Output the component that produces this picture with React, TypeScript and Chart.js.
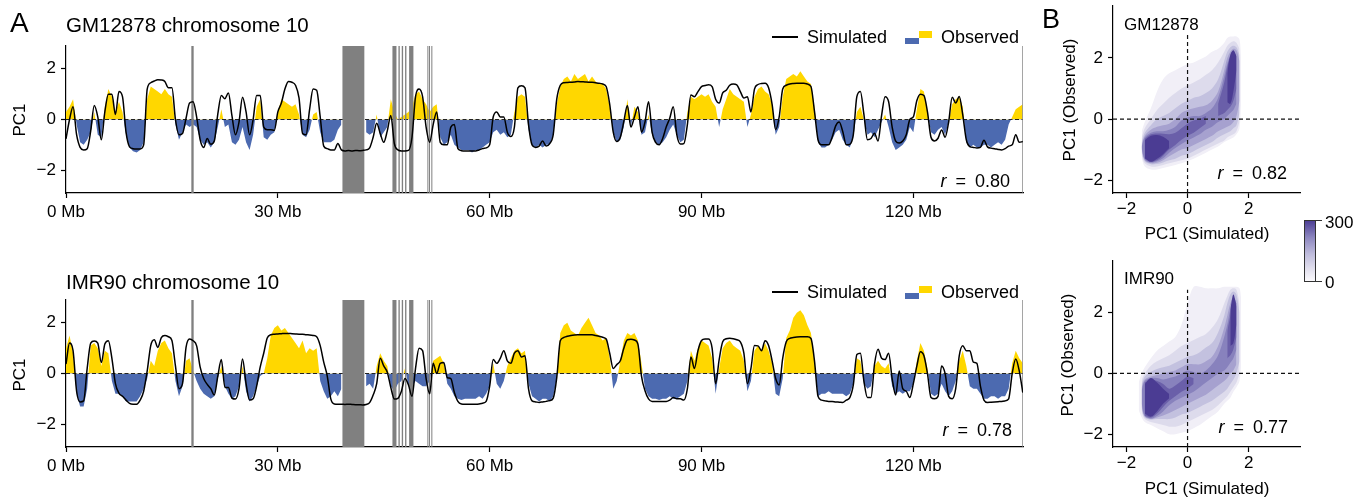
import React, { useEffect, useRef } from "react";
import { Chart, registerables } from "chart.js";

Chart.register(...registerables);

const FONT = '"Liberation Sans", Arial, Helvetica, sans-serif';
const YELLOW = "#FFD700";
const BLUE = "#4C6AB0";
const GAP_GRAY = "#808080";

// ---- Track (panel A) data: PC1 per 0.5 Mb bin, chromosome 10 ----
const BIN_MB = 0.5;
const CHROM_END_MB = 135.53;
const X_TICKS_MB = [0, 30, 60, 90, 120];
const Y_TICKS_PC1 = [-2, 0, 2];

// unmappable gaps [start, end] in Mb
const GAPS_MB: number[][] = [
  [17.75, 18.08], [39.15, 42.25], [46.23, 46.8], [47.08, 47.27], [47.55, 47.74],
  [48.02, 48.21], [48.59, 49.2], [51.18, 51.28], [51.41, 51.5], [51.74, 51.84],
  [135.43, 135.53],
];

const GM_SIM = [
  -0.76, 0.0, 0.5, -0.6, -1.1, -1.2, -1.15, -0.45, 0.55, 0.1, -0.8, 0.3, 1.0, 1.0, 0.2, 1.1, 0.9, -0.5, -1.08, -1.15,
  -1.16, -1.16, -1.0, 1.2, 1.45, 1.52, 1.57, 1.56, 1.5, 1.25, 1.25, 0.0, -0.6, -0.55, 0.05, 0.65, 0.7, 0.1, -0.8, -1.1,
  -0.75, -0.98, -0.85, 0.22, 0.95, 0.82, 1.05, 0.15, -0.6, -0.1, 0.88, 0.3, -0.6, 0.0, 0.95, 0.95, -0.3, -0.4, -0.4, -0.43,
  0.3, 0.65, 1.2, 1.5, 1.47, 1.35, 0.85, -0.55, -0.6, 0.4, 1.2, 1.15, 0.1, -1.05, -1.15, -1.2, -1.2, -0.95, -1.2, -1.24,
  -1.22, -1.24, -1.22, -1.23, -1.22, -1.2, -1.12, -0.7, -0.15, -0.55, -0.9, -0.45, 0.16, -0.95, -1.2, -1.24, -1.24, -1.22, -0.7, 0.9,
  1.2, 0.9, -0.3, -0.9, -0.2, 0.3, -0.9, -1.0, -1.0, -0.3, -0.2, -1.15, -1.23, -1.24, -1.24, -1.24, -1.24, -1.2, -1.15, -1.12,
  -1.0, 0.1, 0.3, 0.1, 0.1, -0.5, -0.67, -0.3, 1.25, 1.33, 1.25, -0.2, -1.0, -1.1, -1.05, -0.85, -1.05, -0.95, -0.6, 0.8,
  1.35, 1.45, 1.46, 1.47, 1.48, 1.5, 1.49, 1.48, 1.47, 1.47, 1.45, 1.43, 1.4, 1.3, 0.6, -0.5, -0.87, -0.7, -0.08, 0.55,
  -0.3, 0.1, 0.5, -0.5, -0.1, 0.7, -0.5, -0.9, -1.0, -0.75, -0.3, 0.05, 0.5, -0.6, -0.97, -0.95, -0.2, 0.97, 0.9, 1.1,
  1.3, 1.34, 1.37, 1.3, 0.8, 0.65, 1.05, 1.15, 1.35, 1.4, 1.37, 1.1, 0.85, 0.9, 0.3, 1.2, 1.38, 1.42, 1.43, 1.25,
  0.6, -0.4, 0.1, 1.2, 1.35, 1.4, 1.42, 1.43, 1.43, 1.43, 1.4, 1.3, 0.32, -0.8, -1.0, -1.0, -1.0, -0.7, -0.25, -0.1,
  -0.47, -1.0, -0.98, -0.6, 0.9, 1.1, 0.2, -0.8, -0.75, -0.54, -0.85, 0.15, 0.9, 0.7, -0.3, -0.85, -0.93, -0.85, -0.6, 0.0,
  0.1, 0.75, 1.0, 0.95, 0.3, -0.7, -0.85, -0.74, -0.41, -0.7, -0.1, 0.88, 0.65, 0.91, 0.18, -0.8, -1.07, -1.1, -1.12, -1.1,
  -0.82, -1.08, -1.13, -1.15, -1.18, -1.2, -1.15, -1.05, -1.0, -0.6, -0.9, -0.87,
];

const GM_OBS = [
  0.3, 0.5, 0.8, -0.2, -0.9, -1.0, -0.8, -0.5, 0.3, -0.6, -0.7, 0.5, 1.2, 0.9, 0.3, 0.7, 0.3, -0.6, -1.1, -1.25,
  -1.3, -1.2, -0.9, 0.8, 1.3, 1.2, 1.1, 1.0, 1.2, 1.0, 0.9, -0.2, -0.8, -0.5, -0.2, -0.3, -0.2, -0.3, -0.8, -1.0,
  -0.9, -1.1, -0.9, -0.3, 0.4, -0.3, -0.2, -0.9, -1.0, -0.8, -0.3, -0.9, -1.2, -0.6, 0.5, 0.8, -0.7, -0.8, -0.6, -0.5,
  0.3, 0.8, 0.7, 0.6, 0.5, 0.6, 0.2, -0.6, -0.7, -0.4, 0.2, 0.3, -0.5, -0.9, -0.9, -0.9, -0.8, -0.4, -0.2, null,
  null, null, null, null, null, -0.5, -0.6, -0.5, 0.2, -0.7, -0.5, -0.3, 0.8, 0.3, 0.0, 0.1, 0.2, 0.3, 0.5, 1.0,
  1.1, 0.8, 0.6, 0.3, 0.5, 0.6, -0.7, -1.0, -0.9, -0.6, -1.0, -1.1, -1.2, -1.2, -1.2, -1.3, -1.2, -1.2, -1.1, -1.0,
  -0.9, -0.5, -0.4, -0.6, -0.5, -0.7, -0.6, 0.3, 0.9, 1.0, 0.9, -0.4, -1.0, -1.1, -1.0, -1.1, -1.0, -1.0, -0.6, 0.6,
  1.3, 1.6, 1.7, 1.5, 1.8, 1.6, 1.7, 1.8, 1.5, 1.7, 1.5, 1.4, 1.4, 1.2, 0.5, -0.5, -0.9, -0.8, -0.3, 0.8,
  -0.3, 0.5, 0.3, -0.6, -0.5, 0.2, -0.6, -0.9, -1.0, -0.9, -0.7, -0.4, -0.2, -0.6, -0.9, -0.8, 0.3, 0.9, 0.8, 0.9,
  1.0, 0.9, 1.0, 0.7, 0.5, -0.3, 0.4, 0.8, 1.2, 1.0, 0.9, 0.8, 0.7, -0.3, 0.2, 0.9, 1.2, 1.3, 1.1, 1.0,
  0.6, -0.6, -0.3, 0.9, 1.6, 1.7, 1.8, 1.7, 1.9, 1.7, 1.5, 1.4, 0.5, -0.9, -1.1, -1.1, -1.0, -0.8, -0.5, -0.4,
  -0.8, -1.0, -1.1, -0.7, 0.3, 0.5, 0.0, -0.6, -0.5, -0.7, -0.4, -0.1, 0.2, -0.3, -0.9, -1.2, -1.1, -1.0, -0.8, -0.3,
  -0.5, 0.4, 1.2, 1.1, 0.3, -0.5, -0.6, -0.4, -0.3, -0.6, -0.1, 0.6, 0.8, 0.9, 0.5, -0.9, -1.1, -1.0, -1.1, -1.1,
  -1.0, -1.0, -1.1, -1.0, -0.9, -1.0, -0.8, -0.2, 0.1, 0.4, 0.5, 0.6,
];

const IMR_SIM = [
  0.37, 1.2, 0.9, -0.7, -1.12, -1.08, 0.2, 1.2, 1.28, 1.2, 0.43, 1.16, 1.29, 0.6, -0.4, -0.78, -0.9, -1.05, -1.18, -1.21,
  -1.21, -1.05, -0.7, 0.1, 1.1, 1.33, 1.03, 1.42, 1.5, 1.45, 1.3, 0.3, -0.6, -0.4, 1.03, 1.36, 1.29, 1.09, 0.25, -0.2,
  -0.43, -0.6, -0.85, -0.1, 0.55, -0.55, -0.55, -0.97, -1.01, -0.6, 0.57, -0.4, -1.05, -1.0, -0.5, 0.25, 0.8, 1.4, 1.53, 1.55,
  1.56, 1.57, 1.58, 1.58, 1.57, 1.56, 1.55, 1.55, 1.53, 1.52, 1.5, 1.45, 1.1, 0.45, -0.1, -1.0, -1.2, -1.21, -1.21, -1.22,
  -1.21, -1.22, -1.23, -1.23, -1.24, -1.22, -1.15, -0.85, -0.4, 0.6, 0.3, 0.05, -0.55, -1.01, -0.98, -0.7, -0.2, -0.45, -0.9, 0.2,
  1.0, 0.9, -0.2, -0.8, 0.4, 0.0, 0.4, 0.43, -0.16, -0.2, -0.75, -1.1, -1.2, -1.21, -1.21, -1.21, -1.21, -1.2, -1.17, -1.1,
  -0.5, 0.55, 0.4, 0.6, 0.9, 0.5, 0.4, 0.8, 0.9, 0.65, 0.7, -0.6, -1.08, -1.12, -1.14, -1.12, -1.1, -1.07, -0.97, -0.16,
  1.29, 1.42, 1.47, 1.5, 1.52, 1.53, 1.53, 1.53, 1.53, 1.53, 1.5, 1.47, 1.43, 1.36, 0.8, 0.2, 0.35, 0.5, 1.0, 1.33,
  1.35, 1.32, 1.15, -0.1, -0.68, -1.0, -1.1, -1.1, -1.1, -1.1, -1.1, -1.05, -0.95, -1.0, -1.0, -1.05, -0.6, 0.65, 0.2, 0.9,
  1.3, 1.36, 1.36, 1.0, -0.4, 0.55, 1.25, 1.37, 1.39, 1.37, 1.33, 1.25, 0.8, -0.4, 0.2, 1.1, 1.09, 0.9, 1.29, 1.1,
  0.5, -0.2, -0.45, 0.6, 1.25, 1.39, 1.42, 1.44, 1.45, 1.45, 1.45, 1.38, 0.5, -0.9, -1.05, -1.08, -1.1, -1.1, -1.12, -1.13,
  -1.14, -1.05, -0.95, -0.45, 0.75, 0.8, -0.3, -0.95, -0.95, 0.37, 0.96, 0.6, 0.55, 0.8, -0.2, -0.85, 0.1, -0.6, -0.7, -0.95,
  -0.4, 0.3, 0.86, 0.7, 0.0, -0.95, -1.0, -0.9, 0.3, 0.0, -0.9, -1.0, -0.6, 0.7, 1.09, 0.9, 0.9, 0.45, 0.4, -0.5,
  -1.05, -1.14, -1.13, -1.12, -1.11, -1.1, -1.08, -1.0, 0.0, 0.57, 0.1, -0.75,
];

const IMR_OBS = [
  1.0, 1.5, 0.8, -0.8, -1.3, -1.3, -0.6, 1.1, 1.2, 1.0, 0.3, 0.9, 0.8, -0.3, -0.8, -0.8, -0.9, -1.1, -1.1, -1.1,
  -1.1, -0.9, -0.6, -0.2, 0.5, 0.3, 0.9, 1.2, 1.3, 1.0, 0.8, -0.3, -0.9, -0.5, 0.5, 0.6, 0.1, -0.3, -0.6, -0.8,
  -0.9, -1.0, -0.9, -0.2, 0.3, -0.5, -0.8, -1.0, -0.9, -0.5, 0.3, -0.7, -1.1, -0.9, -0.5, -0.1, 0.0, 0.6, 1.5, 1.8,
  1.9, 1.7, 1.8, 1.6, 1.4, 1.2, 1.0, 1.3, 0.8, 1.0, 0.9, 1.0, -0.3, -0.7, -1.0, -0.9, -0.7, -0.9, -0.6, null,
  null, null, null, null, null, -0.5, -0.4, -0.6, 0.3, 0.8, 0.5, 0.3, -0.5, -0.7, -0.4, -0.3, 0.2, -0.5, -0.5, -0.3,
  -0.4, -0.5, -0.5, -0.3, 0.5, 0.6, 0.7, 0.4, -0.4, -0.6, -0.9, -1.0, -1.05, -1.0, -1.0, -1.0, -1.0, -0.9, -1.0, -0.8,
  -0.5, 0.4, -0.4, -0.6, -0.3, 0.3, 0.6, 0.9, 1.0, 0.8, 0.9, -0.4, -0.9, -1.0, -1.1, -1.0, -1.0, -1.1, -0.9, -0.2,
  1.6, 1.9, 2.0, 1.7, 1.6, 1.5, 1.8, 2.0, 2.2, 1.9, 1.6, 1.5, 1.3, 1.4, 0.6, -0.6, -0.3, 0.5, 1.3, 1.6,
  1.5, 1.6, 1.3, 0.4, -0.6, -0.9, -1.0, -1.0, -1.05, -1.0, -1.0, -0.9, -1.0, -1.0, -0.9, -0.8, -0.3, 0.9, 0.5, 1.0,
  1.3, 1.2, 1.1, 0.6, -0.8, 0.2, 1.0, 1.2, 1.3, 1.1, 1.0, 0.9, 0.5, -0.7, -0.3, 0.9, 1.1, 0.9, 1.2, 0.9,
  0.4, -0.8, -0.9, -0.2, 1.4, 1.7, 2.2, 2.4, 2.5, 2.3, 1.9, 1.6, 0.5, -0.9, -0.8, -0.8, -0.7, -0.8, -0.8, -0.8,
  -0.8, -0.9, -0.8, -0.4, 0.6, 0.5, -0.4, -0.6, -0.5, 0.3, 0.5, 0.3, 0.2, 0.4, -0.5, -0.8, -0.7, -0.8, -0.7, -0.7,
  -0.4, 0.5, 1.2, 0.9, 0.2, -0.8, -0.9, -0.8, -0.4, -0.7, -0.9, -0.7, -0.3, 0.5, 0.9, 0.3, -0.5, -0.6, -0.6, -0.8,
  -1.0, -1.0, -0.9, -0.9, -1.0, -0.9, -0.9, -0.6, 0.4, 0.9, 0.6, 0.4,
];

// ---- Density (panel B): contour bands, lower/upper bound of each level over x ----
const B_TICKS = [-2, 0, 2];
const B_XMIN = -2.44;
const B_XMAX = 3.68;
const B_YMIN = -2.42;
const B_YMAX = 3.7;
const DENS_X = [-1.6, -1.5, -1.4, -1.2, -1.0, -0.8, -0.6, -0.4, -0.2, 0, 0.2, 0.4, 0.6, 0.8, 1.0, 1.2, 1.3, 1.4, 1.5, 1.6, 1.7, 1.75];
const LEVEL_COLORS = ["#f1eff7", "#dddbec", "#c3c1df", "#a6a1cf", "#8882bd", "#6a5fa9", "#4b3c93"];

const GM_LO = [
  [null, -1.3, -1.55, -1.65, -1.65, -1.6, -1.55, -1.5, -1.45, -1.38, -1.3, -1.2, -1.1, -1.0, -0.9, -0.75, -0.7, -0.65, -0.6, -0.5, -0.3, 0.5],
  [null, -1.2, -1.45, -1.55, -1.55, -1.5, -1.45, -1.4, -1.35, -1.3, -1.2, -1.1, -1.0, -0.9, -0.8, -0.7, -0.6, -0.55, -0.5, -0.4, -0.1, null],
  [null, -1.1, -1.38, -1.48, -1.47, -1.42, -1.35, -1.3, -1.2, -1.15, -1.05, -0.95, -0.85, -0.75, -0.6, -0.5, -0.45, -0.4, -0.3, -0.2, 0.2, null],
  [null, -1.0, -1.35, -1.45, -1.43, -1.35, -1.22, -1.1, -1.0, -0.95, -0.85, -0.75, -0.65, -0.55, -0.4, -0.3, -0.25, -0.2, -0.1, 0.1, 0.6, null],
  [null, -0.95, -1.32, -1.42, -1.38, -1.28, -1.1, -0.95, -0.82, -0.7, -0.6, -0.5, -0.35, -0.25, -0.1, 0.0, 0.1, 0.2, 0.3, 0.5, null, null],
  [null, null, -1.3, -1.4, -1.35, -1.2, -1.0, -0.85, -0.68, -0.55, -0.45, -0.3, -0.15, null, 0.1, 0.2, 0.3, 0.4, 0.6, 1.0, null, null],
  [null, null, -1.28, -1.4, -1.3, -1.15, -0.95, null, null, null, null, null, null, null, null, null, 0.55, 0.5, 0.9, 1.6, null, null],
];
const GM_HI = [
  [null, -0.4, -0.1, 0.35, 0.9, 1.3, 1.5, 1.6, 1.7, 1.8, 1.85, 1.95, 2.05, 2.2, 2.3, 2.5, 2.65, 2.7, 2.7, 2.7, 2.6, 2.0],
  [null, -0.6, -0.3, 0.0, 0.3, 0.5, 0.7, 0.85, 1.0, 1.1, 1.2, 1.3, 1.45, 1.6, 1.85, 2.2, 2.4, 2.5, 2.55, 2.5, 2.3, null],
  [null, -0.75, -0.45, -0.2, 0.0, 0.1, 0.2, 0.35, 0.5, 0.6, 0.7, 0.75, 0.85, 1.0, 1.3, 1.9, 2.2, 2.35, 2.4, 2.35, 2.1, null],
  [null, -0.85, -0.55, -0.35, -0.25, -0.2, -0.15, 0.0, 0.2, 0.3, 0.35, 0.4, 0.45, 0.6, 0.9, 1.6, 2.0, 2.2, 2.3, 2.25, 1.9, null],
  [null, -0.9, -0.6, -0.45, -0.4, -0.4, -0.35, -0.25, -0.05, 0.05, 0.1, 0.1, 0.2, 0.35, 0.7, 1.4, 1.8, 2.1, 2.2, 2.1, null, null],
  [null, null, -0.65, -0.5, -0.47, -0.48, -0.5, -0.45, -0.3, -0.15, -0.05, 0.0, 0.1, null, 0.5, 1.2, 1.7, 2.05, 2.2, 2.05, null, null],
  [null, null, -0.7, -0.55, -0.52, -0.58, -0.72, null, null, null, null, null, null, null, null, null, 1.5, 2.1, 2.25, 2.05, null, null],
];

const IMR_LO = [
  [-1.2, -1.45, -1.6, -1.7, -1.8, -1.9, -2.0, -2.0, -1.95, -1.9, -1.8, -1.7, -1.55, -1.4, -1.25, -1.0, -0.9, -0.8, -0.6, -0.45, -0.25, 0.2],
  [null, -1.3, -1.5, -1.6, -1.65, -1.7, -1.75, -1.75, -1.7, -1.6, -1.5, -1.4, -1.3, -1.2, -1.05, -0.85, -0.75, -0.6, -0.45, -0.3, 0.0, null],
  [null, -1.2, -1.45, -1.52, -1.5, -1.5, -1.5, -1.45, -1.35, -1.3, -1.2, -1.1, -1.0, -0.9, -0.75, -0.6, -0.5, -0.35, -0.2, 0.0, 0.4, null],
  [null, -1.1, -1.42, -1.5, -1.45, -1.38, -1.3, -1.2, -1.1, -1.0, -0.9, -0.8, -0.7, -0.55, -0.4, -0.25, -0.15, 0.0, 0.1, 0.3, null, null],
  [null, -1.0, -1.4, -1.48, -1.4, -1.25, -1.05, -0.9, -0.8, -0.7, -0.6, -0.45, -0.3, -0.15, 0.0, 0.1, 0.2, 0.35, 0.5, 0.8, null, null],
  [null, null, -1.38, -1.45, -1.32, -1.1, -0.9, -0.75, -0.6, -0.5, -0.35, null, null, null, null, null, 0.5, 0.6, 0.8, 1.2, null, null],
  [null, null, -1.32, -1.42, -1.25, -1.0, -0.82, null, null, null, null, null, null, null, null, null, null, 0.9, 1.0, 1.6, null, null],
];
const IMR_HI = [
  [-0.3, 0.0, 0.2, 0.5, 0.75, 0.9, 1.05, 1.2, 1.6, 2.3, 2.85, 2.85, 2.8, 2.8, 2.8, 2.85, 2.85, 2.85, 2.85, 2.85, 2.8, 2.5],
  [null, -0.2, 0.0, 0.25, 0.4, 0.5, 0.6, 0.75, 0.9, 1.0, 1.1, 1.2, 1.3, 1.5, 1.8, 2.3, 2.55, 2.75, 2.8, 2.75, 2.3, null],
  [null, -0.35, -0.1, 0.05, 0.15, 0.2, 0.25, 0.35, 0.45, 0.55, 0.6, 0.7, 0.85, 1.0, 1.35, 1.9, 2.3, 2.6, 2.7, 2.6, 2.0, null],
  [null, -0.45, -0.2, -0.1, -0.05, 0.0, 0.05, 0.1, 0.2, 0.3, 0.3, 0.3, 0.4, 0.55, 0.9, 1.5, 1.9, 2.3, 2.5, 2.4, null, null],
  [null, -0.55, -0.25, -0.15, -0.15, -0.2, -0.15, -0.1, 0.0, 0.1, 0.05, 0.0, 0.1, 0.3, 0.6, 1.2, 1.6, 2.1, 2.4, 2.3, null, null],
  [null, null, -0.3, -0.2, -0.25, -0.35, -0.5, -0.4, -0.25, -0.1, -0.15, null, null, null, null, null, 1.4, 1.9, 2.5, 2.3, null, null],
  [null, null, -0.35, -0.15, -0.3, -0.5, -0.68, null, null, null, null, null, null, null, null, null, null, 2.1, 2.6, 2.2, null, null],
];

const fmtTick = (v: number) => (v < 0 ? "\u2212" + Math.abs(v) : String(v));

const gapPlugin = {
  id: "gapBands",
  afterDatasetDraw(chart: any, args: any) {
    if (args.index !== 1) return;
    const { ctx, chartArea, scales } = chart;
    const xs = scales.x;
    ctx.save();
    ctx.beginPath();
    ctx.rect(chartArea.left, chartArea.top, chartArea.right - chartArea.left, chartArea.bottom - chartArea.top);
    ctx.clip();
    ctx.fillStyle = GAP_GRAY;
    for (const g of GAPS_MB) {
      const x0 = xs.getPixelForValue(g[0]);
      const x1 = xs.getPixelForValue(g[1]);
      ctx.fillRect(x0, chartArea.top, Math.max(x1 - x0, 1), chartArea.bottom - chartArea.top);
    }
    ctx.restore();
  },
};

const axisGrid = { display: true, drawOnChartArea: false, drawTicks: true, tickLength: 5, tickColor: "#000", tickWidth: 1.2 };
const axisBorder = { display: true, color: "#000", width: 1.2 };
const tickFont = { family: FONT, size: 17 };

const fixX = (h: number) => (s: any) => { s.height = h; s.paddingLeft = 0; s.paddingRight = 0; };
const fixY = (w: number) => (s: any) => { s.width = w; s.paddingTop = 0; s.paddingBottom = 0; };

function trackChart(canvas: HTMLCanvasElement, sim: (number | null)[], obs: (number | null)[]) {
  const pts = (arr: (number | null)[]) => arr.map((v, i) => ({ x: i * BIN_MB, y: v }));
  return new Chart(canvas, {
    type: "line",
    data: {
      datasets: [
        { data: pts(sim), borderColor: "#000", borderWidth: 1.5, pointRadius: 0, cubicInterpolationMode: "monotone", fill: false, order: 0 },
        { data: [{ x: 0, y: 0 }, { x: CHROM_END_MB, y: 0 }], borderColor: "#222", borderWidth: 1, borderDash: [4, 2.5], pointRadius: 0, fill: false, order: 1 },
        { data: pts(obs), borderColor: "rgba(0,0,0,0)", borderWidth: 0, pointRadius: 0, fill: { target: "origin", above: YELLOW, below: BLUE }, order: 2 },
      ],
    } as any,
    options: {
      animation: false,
      responsive: false,
      events: [],
      layout: { padding: { top: 46, right: 17, bottom: 10, left: 0 } },
      plugins: { legend: { display: false }, tooltip: { enabled: false } },
      scales: {
        x: {
          type: "linear", min: 0, max: CHROM_END_MB,
          afterBuildTicks: (s: any) => { s.ticks = X_TICKS_MB.map((v) => ({ value: v })); },
          ticks: { callback: (v: any) => `${v} Mb`, font: tickFont, color: "#000", padding: 4, maxRotation: 0, autoSkip: false },
          grid: axisGrid, border: axisBorder,
          afterFit: fixX(47),
        },
        y: {
          type: "linear", min: -2.9, max: 2.9,
          afterBuildTicks: (s: any) => { s.ticks = Y_TICKS_PC1.map((v) => ({ value: v })); },
          ticks: { callback: (v: any) => fmtTick(v), font: tickFont, color: "#000", padding: 5 },
          grid: axisGrid, border: axisBorder,
          afterFit: fixY(66),
        },
      },
    } as any,
    plugins: [gapPlugin],
  });
}

function densityChart(canvas: HTMLCanvasElement, los: (number | null)[][], his: (number | null)[][], vTop: number, padTop: number) {
  const datasets: any[] = [];
  los.forEach((lo, k) => {
    const base = datasets.length;
    datasets.push({ data: DENS_X.map((x, i) => ({ x, y: lo[i] })), borderColor: "rgba(0,0,0,0)", borderWidth: 0, pointRadius: 0, tension: 0.35, fill: false, order: 20 - k });
    datasets.push({ data: DENS_X.map((x, i) => ({ x, y: his[k][i] })), borderColor: "rgba(0,0,0,0)", borderWidth: 0, pointRadius: 0, tension: 0.35, fill: base, backgroundColor: LEVEL_COLORS[k], order: 20 - k });
  });
  datasets.push({ data: [{ x: B_XMIN, y: 0 }, { x: B_XMAX, y: 0 }], borderColor: "#111", borderWidth: 1.2, borderDash: [4, 3], pointRadius: 0, fill: false, order: 0 });
  datasets.push({ data: [{ x: 0, y: B_YMIN }, { x: 0, y: vTop }], borderColor: "#111", borderWidth: 1.2, borderDash: [4, 3], pointRadius: 0, fill: false, order: 0 });
  return new Chart(canvas, {
    type: "line",
    data: { datasets },
    options: {
      animation: false,
      responsive: false,
      events: [],
      layout: { padding: { top: padTop, right: 40, bottom: 10, left: 0 } },
      plugins: { legend: { display: false }, tooltip: { enabled: false } },
      scales: {
        x: {
          type: "linear", min: B_XMIN, max: B_XMAX,
          afterBuildTicks: (s: any) => { s.ticks = B_TICKS.map((v) => ({ value: v })); },
          ticks: { callback: (v: any) => fmtTick(v), font: tickFont, color: "#000", padding: 1, maxRotation: 0, autoSkip: false },
          grid: axisGrid, border: axisBorder,
          afterFit: fixX(47),
        },
        y: {
          type: "linear", min: B_YMIN, max: B_YMAX,
          afterBuildTicks: (s: any) => { s.ticks = B_TICKS.map((v) => ({ value: v })); },
          ticks: { callback: (v: any) => fmtTick(v), font: tickFont, color: "#000", padding: 5 },
          grid: axisGrid, border: axisBorder,
          afterFit: fixY(73),
        },
      },
    } as any,
  });
}

type TxtProps = { x: number; y: number; size?: number; anchor?: "left" | "right" | "center"; rotate?: boolean; children: any };
function Txt({ x, y, size = 18, anchor = "left", rotate = false, children }: TxtProps) {
  let transform = "translate(0,-50%)";
  if (anchor === "right") transform = "translate(-100%,-50%)";
  if (anchor === "center") transform = "translate(-50%,-50%)";
  if (rotate) transform = "translate(-50%,-50%) rotate(-90deg)";
  return (
    <div style={{ position: "absolute", left: x, top: y, fontSize: size, lineHeight: 1, whiteSpace: "nowrap", transform }}>
      {children}
    </div>
  );
}

function Legend({ y }: { y: number }) {
  const ly = Math.round(y) - 1;
  return (
    <>
      <div style={{ position: "absolute", left: 772, top: ly, width: 26, height: 2, background: "#000" }} />
      <Txt x={807} y={y} size={18}>Simulated</Txt>
      <div style={{ position: "absolute", left: 905, top: ly + 2, width: 14, height: 6, background: BLUE }} />
      <div style={{ position: "absolute", left: 919, top: ly - 5, width: 13, height: 7, background: YELLOW }} />
      <Txt x={941} y={y} size={18}>Observed</Txt>
    </>
  );
}

const RText = ({ v }: { v: string }) => (
  <span>
    <i>r</i>{"\u2002=\u2002"}{v}
  </span>
);

export default function App() {
  const c1 = useRef<HTMLCanvasElement>(null);
  const c2 = useRef<HTMLCanvasElement>(null);
  const c3 = useRef<HTMLCanvasElement>(null);
  const c4 = useRef<HTMLCanvasElement>(null);

  useEffect(() => {
    const charts = [
      trackChart(c1.current!, GM_SIM, GM_OBS),
      trackChart(c2.current!, IMR_SIM, IMR_OBS),
      densityChart(c3.current!, GM_LO, GM_HI, 2.8, 6),
      densityChart(c4.current!, IMR_LO, IMR_HI, 2.75, 7),
    ];
    return () => charts.forEach((c) => c.destroy());
  }, []);

  const cv = (left: number, top: number, w: number, h: number): React.CSSProperties => ({ position: "absolute", left, top, width: w, height: h });

  return (
    <div style={{ position: "absolute", left: 0, top: 0, width: 1371, height: 500, background: "#fff", fontFamily: FONT, color: "#000", overflow: "hidden" }}>
      <canvas ref={c1} width={1040} height={250} style={cv(0, 0, 1040, 250)} />
      <canvas ref={c2} width={1040} height={250} style={cv(0, 254, 1040, 250)} />
      <canvas ref={c3} width={300} height={250} style={cv(1040, 0, 300, 250)} />
      <canvas ref={c4} width={300} height={250} style={cv(1040, 254, 300, 250)} />

      {/* Panel A */}
      <Txt x={10} y={23} size={28}>A</Txt>
      <Txt x={66} y={25} size={20.5}>GM12878 chromosome 10</Txt>
      <Txt x={19} y={120} size={17} rotate>PC1</Txt>
      <Legend y={36.5} />
      <Txt x={1010} y={181} size={18} anchor="right"><RText v="0.80" /></Txt>

      <Txt x={66} y={281.5} size={20.5}>IMR90 chromosome 10</Txt>
      <Txt x={19} y={375} size={17} rotate>PC1</Txt>
      <Legend y={291.8} />
      <Txt x={1012} y={430} size={18} anchor="right"><RText v="0.78" /></Txt>

      {/* Panel B */}
      <Txt x={1042} y={19} size={27}>B</Txt>
      <Txt x={1124} y={24} size={17}>GM12878</Txt>
      <Txt x={1069} y={100} size={17} rotate>PC1 (Observed)</Txt>
      <Txt x={1207} y={233} size={17} anchor="center">PC1 (Simulated)</Txt>
      <Txt x={1287} y={173} size={18} anchor="right"><RText v="0.82" /></Txt>

      <Txt x={1124} y={278} size={17}>IMR90</Txt>
      <Txt x={1067} y={355} size={17} rotate>PC1 (Observed)</Txt>
      <Txt x={1207} y={488} size={17} anchor="center">PC1 (Simulated)</Txt>
      <Txt x={1288} y={427} size={18} anchor="right"><RText v="0.77" /></Txt>

      {/* colour bar */}
      <div style={{ position: "absolute", left: 1303.5, top: 219.5, width: 12, height: 62.5, boxSizing: "border-box", border: "1px solid #333", background: "linear-gradient(to top, #fbfafd, #e2e0ee 20%, #bfbcdc 45%, #8e88c0 72%, #4d3f95)" }} />
      <div style={{ position: "absolute", left: 1315.5, top: 219.5, width: 6, height: 1, background: "#333" }} />
      <div style={{ position: "absolute", left: 1315.5, top: 281, width: 6, height: 1, background: "#333" }} />
      <Txt x={1325} y={222} size={17}>300</Txt>
      <Txt x={1325} y={282} size={17}>0</Txt>
    </div>
  );
}
